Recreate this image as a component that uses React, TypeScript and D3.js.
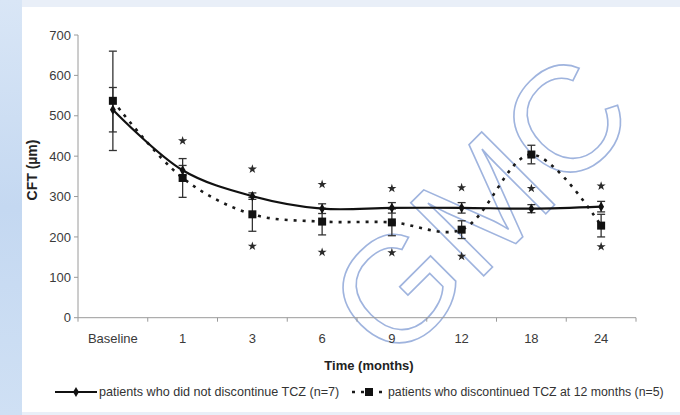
import React from "react";
import * as d3 from "d3";

const categories = ["Baseline", "1", "3", "6", "9", "12", "18", "24"];
const yTicks = [0, 100, 200, 300, 400, 500, 600, 700];

// patients who did not discontinue TCZ (n=7)
const contValues = [515, 365, 301, 270, 272, 272, 270, 275];
const contErr = [55, 12, 8, 12, 13, 13, 10, 13];

// patients who discontinued TCZ at 12 months (n=5)
const discValues = [537, 346, 256, 238, 236, 218, 404, 228];
const discErr = [123, 48, 42, 33, 33, 22, 23, 28];

// significance markers (category, value)
const starCats = ["1", "3", "3", "6", "6", "9", "9", "12", "12", "18", "24", "24"];
const starValues = [438, 368, 177, 330, 162, 320, 161, 322, 152, 320, 326, 176];

const legendLabels = [
  "patients who did not discontinue TCZ (n=7)",
  "patients who discontinued TCZ at 12 months (n=5)",
];

const W = 680;
const H = 415;
const FONT = "'Liberation Sans', Arial, Helvetica, sans-serif";

export default function App() {
  const x = d3.scaleBand().domain(categories).range([78, 636]).padding(0);
  const y = d3.scaleLinear().domain([0, 700]).range([317.7, 35]);
  const cx = (c: string) => (x(c) as number) + x.bandwidth() / 2;

  const line = d3
    .line<number>()
    .x((_, i) => cx(categories[i]))
    .y((v) => y(v))
    .curve(d3.curveCatmullRom.alpha(0.5));

  const diamond = d3.symbol().type(d3.symbolDiamond).size(30)() as string;
  const star = d3.symbol().type(d3.symbolStar).size(26)() as string;

  const errBar = (c: string, v: number, e: number, key: string, color: string) => {
    const px = cx(c);
    return (
      <g key={key} stroke={color} strokeWidth={1.3}>
        <line x1={px} x2={px} y1={y(v - e)} y2={y(v + e)} />
        <line x1={px - 4} x2={px + 4} y1={y(v - e)} y2={y(v - e)} />
        <line x1={px - 4} x2={px + 4} y1={y(v + e)} y2={y(v + e)} />
      </g>
    );
  };

  const boundaries = categories.map((c) => x(c) as number).concat([636]);

  return (
    <svg
      width={W}
      height={H}
      style={{ position: "absolute", left: 0, top: 0, display: "block" }}
      fontFamily={FONT}
    >
      <defs>
        <linearGradient id="bgL" x1="0" y1="0" x2="0" y2="1">
          <stop offset="0" stopColor="#d9e6f6" />
          <stop offset="0.5" stopColor="#c4d8f1" />
          <stop offset="1" stopColor="#cfe0f4" />
        </linearGradient>
      </defs>
      <rect x={0} y={0} width={W} height={H} fill="#e9eff8" />
      <rect x={0} y={0} width={22} height={H} fill="url(#bgL)" />
      <rect x={22} y={7} width={W - 22} height={405} fill="#ffffff" />

      {/* watermark */}
      <text
        transform="translate(478,205) rotate(-45)"
        y={54}
        textAnchor="middle"
        fontSize={150}
        fill="none"
        stroke="#8fa7d9"
        strokeWidth={1.6}
        opacity={0.85}
      >
        GMC
      </text>

      {/* y axis */}
      <line x1={78} x2={78} y1={y(700)} y2={y(0)} stroke="#9a9a9a" strokeWidth={1} />
      {yTicks.map((t) => (
        <g key={"yt" + t}>
          <line x1={74} x2={78} y1={y(t)} y2={y(t)} stroke="#9a9a9a" />
          <text x={71} y={y(t)} dy="0.36em" textAnchor="end" fontSize={13} fill="#3a3a3a">
            {t}
          </text>
        </g>
      ))}
      <text
        transform={`translate(37,${170}) rotate(-90)`}
        textAnchor="middle"
        fontSize={14}
        fontWeight="bold"
        fill="#222"
      >
        CFT (µm)
      </text>

      {/* x axis */}
      <line x1={78} x2={636} y1={y(0)} y2={y(0)} stroke="#9a9a9a" strokeWidth={1} />
      {boundaries.map((b, i) => (
        <line key={"xt" + i} x1={b} x2={b} y1={y(0)} y2={y(0) + 4} stroke="#9a9a9a" />
      ))}
      {categories.map((c) => (
        <text key={"xl" + c} x={cx(c)} y={342.5} textAnchor="middle" fontSize={13} fill="#3a3a3a">
          {c}
        </text>
      ))}
      <text x={369} y={369.5} textAnchor="middle" fontSize={13} fontWeight="bold" fill="#222">
        Time (months)
      </text>

      {/* error bars */}
      {categories.map((c, i) => errBar(c, discValues[i], discErr[i], "de" + i, "#333"))}
      {categories.map((c, i) => errBar(c, contValues[i], contErr[i], "ce" + i, "#333"))}

      {/* lines */}
      <path
        d={line(discValues) as string}
        fill="none"
        stroke="#1a1a1a"
        strokeWidth={2.6}
        strokeDasharray="3,6"
      />
      <path d={line(contValues) as string} fill="none" stroke="#111" strokeWidth={2.2} />

      {/* markers */}
      {categories.map((c, i) => (
        <rect
          key={"dm" + i}
          x={cx(c) - 4}
          y={y(discValues[i]) - 4}
          width={8}
          height={8}
          fill="#111"
        />
      ))}
      {categories.map((c, i) => (
        <path
          key={"cm" + i}
          d={diamond}
          transform={`translate(${cx(c)},${y(contValues[i])})`}
          fill="#111"
        />
      ))}

      {/* stars */}
      {starCats.map((c, i) => (
        <path
          key={"st" + i}
          d={star}
          transform={`translate(${cx(c)},${y(starValues[i])})`}
          fill="#2a2a2a"
        />
      ))}

      {/* legend */}
      <g>
        <line x1={55} x2={97} y1={392} y2={392} stroke="#111" strokeWidth={2.2} />
        <path d={diamond} transform="translate(76,392)" fill="#111" />
        <text x={99} y={396} fontSize={12.6} fill="#333">
          {legendLabels[0]}
        </text>
        <line
          x1={352}
          x2={386}
          y1={392}
          y2={392}
          stroke="#1a1a1a"
          strokeWidth={2.4}
          strokeDasharray="3,6"
        />
        <rect x={365} y={388} width={8} height={8} fill="#111" />
        <text x={388} y={396} fontSize={12.3} fill="#333">
          {legendLabels[1]}
        </text>
      </g>
    </svg>
  );
}
